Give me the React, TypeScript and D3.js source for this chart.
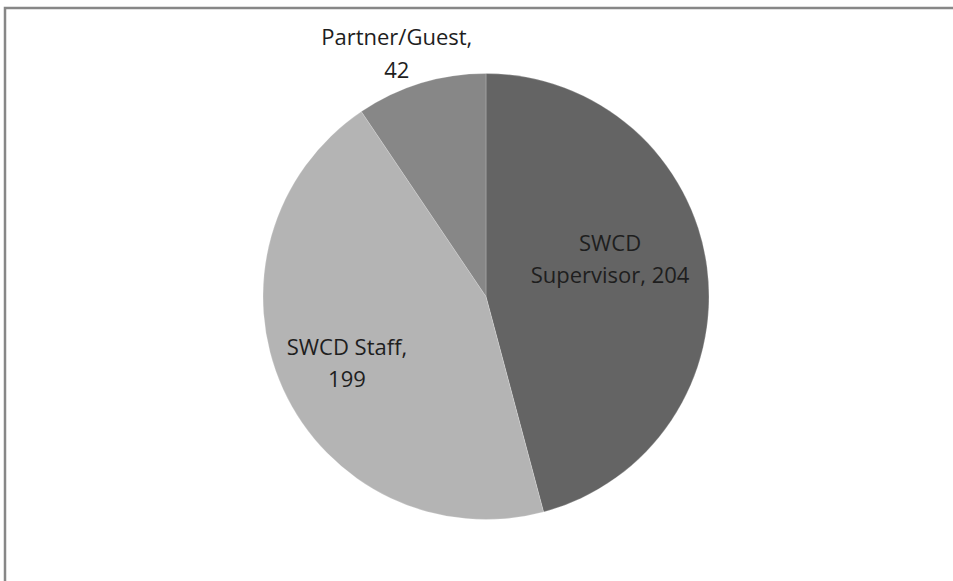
import * as d3 from 'd3';
import { useEffect, useRef } from 'react';

const categories = ['SWCD Supervisor', 'SWCD Staff', 'Partner/Guest'];
const values = [204, 199, 42];
const colors = ['#646464', '#b4b4b4', '#878787'];
// label lines as they appear in the chart
const labelLines = [
  ['SWCD', 'Supervisor, 204'],
  ['SWCD Staff,', '199'],
  ['Partner/Guest,', '42'],
];

const W = 953;
const H = 581;

type Slice = { name: string; value: number; i: number };

export default function App() {
  const svgRef = useRef<SVGSVGElement>(null);

  useEffect(() => {
    if (!svgRef.current) return;
    const svg = d3.select(svgRef.current);
    svg.selectAll('*').remove();

    // frame (only top and left edges visible)
    svg
      .append('path')
      .attr('d', `M5,${H} L5,8 L${W},8`)
      .attr('fill', 'none')
      .attr('stroke', '#878787')
      .attr('stroke-width', 2.5);

    const cx = 486;
    const cy = 296.5;
    const r = 223;

    const data: Slice[] = categories.map((c, i) => ({ name: c, value: values[i], i }));
    const pie = d3
      .pie<Slice>()
      .sort(null)
      .value((d) => d.value);
    const arcs = pie(data);
    const arc = d3.arc<d3.PieArcDatum<Slice>>().innerRadius(0).outerRadius(r);

    const g = svg.append('g').attr('transform', `translate(${cx},${cy})`);
    g.selectAll('path.slice')
      .data(arcs)
      .join('path')
      .attr('class', 'slice')
      .attr('d', arc)
      .attr('fill', (d) => colors[d.data.i])
      .attr('stroke', '#ffffff')
      .attr('stroke-opacity', 0.35)
      .attr('stroke-width', 0.6);

    // label placement: radius factor and nudges per slice
    const labelPos = [
      { k: 0.57, dx: -2, dy: -20, lh: 32 },
      { k: 0.7, dx: 3, dy: 3, lh: 32 },
      { k: 1.14, dx: -15, dy: 1, lh: 33 },
    ];

    arcs.forEach((d, idx) => {
      const p = labelPos[idx];
      const [x, y] = d3
        .arc<d3.PieArcDatum<Slice>>()
        .innerRadius(r * p.k)
        .outerRadius(r * p.k)
        .centroid(d);
      const lines = labelLines[d.data.i];
      const text = g
        .append('text')
        .attr('text-anchor', 'middle')
        .attr('font-family', 'Open Sans, sans-serif')
        .attr('font-size', 22)
        .attr('fill', '#1e1e1e');
      lines.forEach((ln, j) => {
        text
          .append('tspan')
          .attr('x', x + p.dx)
          .attr('y', y + p.dy + (j - (lines.length - 1) / 2) * p.lh + 7)
          .text(ln);
      });
    });
  }, []);

  return (
    <svg
      ref={svgRef}
      width={W}
      height={H}
      style={{ position: 'absolute', left: 0, top: 0, display: 'block', background: '#fff' }}
    />
  );
}
